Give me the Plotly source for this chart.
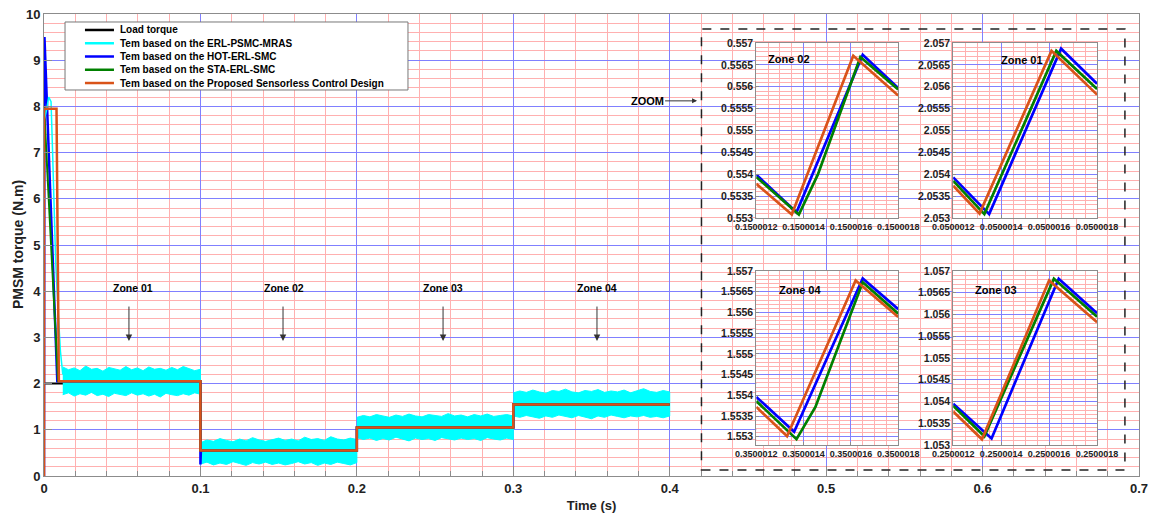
import numpy as np
import plotly.graph_objects as go

# ---------------- data ----------------
C_BLACK, C_CYAN, C_BLUE, C_GREEN, C_ORANGE = "#000000", "#00FFFF", "#0000FF", "#008000", "#D95319"
FONT = "Liberation Sans, Arial, sans-serif"

legend_labels = ["Load torque", "Tem based on the ERL-PSMC-MRAS", "Tem based on the HOT-ERL-SMC",
                 "Tem based on the STA-ERL-SMC", "Tem based on the Proposed Sensorless Control Design"]
legend_colors = [C_BLACK, C_CYAN, C_BLUE, C_GREEN, C_ORANGE]

load_t = [0, 0.1, 0.1, 0.2, 0.2, 0.3, 0.3, 0.4]
load_y = [2.0, 2.0, 0.55, 0.55, 1.05, 1.05, 1.55, 1.55]

cyan_t = [0, 0.0015, 0.003, 0.0045, 0.0055, 0.0065, 0.0075, 0.009, 0.0105, 0.012]
cyan_y = [7.7, 7.9, 8.2, 8.1, 7.0, 5.6, 4.6, 3.6, 2.7, 2.2]

blue_t = [0, 0.0003, 0.0085, 0.1, 0.1, 0.1003, 0.2, 0.2, 0.3, 0.3, 0.4]
blue_y = [0.0, 9.5, 2.05, 2.05, 0.25, 0.55, 0.55, 1.05, 1.05, 1.55, 1.55]

green_t = [0, 0.009, 0.1, 0.1, 0.2, 0.2, 0.3, 0.3, 0.4]
green_y = [8.0, 2.05, 2.05, 0.55, 0.55, 1.05, 1.05, 1.55, 1.55]

orange_t = [0, 0, 0.008, 0.0095, 0.1, 0.1, 0.2, 0.2, 0.3, 0.3, 0.4]
orange_y = [0, 7.95, 7.95, 2.05, 2.05, 0.55, 0.55, 1.05, 1.05, 1.55, 1.55]

# cyan noise band (upper / lower envelope per zone)
band_start = [0.012, 0.1, 0.2, 0.3]
band_end = [0.1, 0.2, 0.3, 0.4]
band_up = [
    [2.36, 2.30, 2.34, 2.28, 2.38, 2.31, 2.33, 2.27, 2.35, 2.32, 2.29, 2.37, 2.30, 2.34, 2.28, 2.36, 2.31, 2.33, 2.29, 2.35, 2.30, 2.37, 2.32, 2.28, 2.31],
    [0.72, 0.78, 0.75, 0.81, 0.77, 0.74, 0.80, 0.76, 0.83, 0.78, 0.75, 0.79, 0.82, 0.77, 0.80, 0.76, 0.84, 0.79, 0.81, 0.77, 0.85, 0.80, 0.78, 0.82, 0.79],
    [1.27, 1.31, 1.28, 1.33, 1.30, 1.27, 1.32, 1.29, 1.34, 1.30, 1.28, 1.33, 1.31, 1.29, 1.35, 1.30, 1.32, 1.28, 1.33, 1.30, 1.34, 1.29, 1.31, 1.33, 1.30],
    [1.80, 1.84, 1.81, 1.86, 1.82, 1.79, 1.85, 1.83, 1.88, 1.82, 1.80, 1.85, 1.83, 1.87, 1.81, 1.84, 1.82, 1.86, 1.80, 1.84, 1.89, 1.83, 1.81, 1.85, 1.82],
]
band_lo = [
    [1.76, 1.80, 1.73, 1.78, 1.75, 1.81, 1.74, 1.77, 1.72, 1.79, 1.76, 1.74, 1.80, 1.75, 1.78, 1.73, 1.77, 1.71, 1.79, 1.76, 1.74, 1.78, 1.75, 1.80, 1.77],
    [0.26, 0.30, 0.24, 0.28, 0.25, 0.31, 0.27, 0.23, 0.29, 0.26, 0.30, 0.25, 0.28, 0.24, 0.27, 0.31, 0.26, 0.29, 0.23, 0.28, 0.25, 0.30, 0.27, 0.24, 0.29],
    [0.83, 0.79, 0.82, 0.77, 0.81, 0.78, 0.84, 0.80, 0.76, 0.82, 0.79, 0.81, 0.77, 0.83, 0.80, 0.78, 0.82, 0.79, 0.81, 0.77, 0.83, 0.80, 0.78, 0.82, 0.79],
    [1.30, 1.27, 1.31, 1.28, 1.25, 1.30, 1.27, 1.32, 1.29, 1.26, 1.31, 1.28, 1.24, 1.30, 1.27, 1.32, 1.29, 1.26, 1.30, 1.28, 1.31, 1.27, 1.29, 1.26, 1.30],
]

# zone labels on main plot
zone_names = ["Zone 01", "Zone 02", "Zone 03", "Zone 04"]
zone_text_x = [0.0569, 0.1534, 0.2551, 0.3535]
zone_arrow_x = [0.0543, 0.1528, 0.2551, 0.3535]

# insets
z02_xt = ["0.1500012", "0.1500014", "0.1500016", "0.1500018"]
z02_xv = [0.1500012, 0.1500014, 0.1500016, 0.1500018]
z02_yv = [0.553, 0.5535, 0.554, 0.5545, 0.555, 0.5555, 0.556, 0.5565, 0.557]
z02_yt = ["0.553", "0.5535", "0.554", "0.5545", "0.555", "0.5555", "0.556", "0.5565", "0.557"]
z02_blue_x = [0.1500012, 0.15000137, 0.15000165, 0.1500018]
z02_blue_y = [0.55399, 0.55313, 0.55673, 0.55597]
z02_green_x = [0.1500012, 0.15000138, 0.15000146, 0.15000164, 0.1500018]
z02_green_y = [0.55394, 0.55308, 0.55399, 0.55668, 0.55594]
z02_orange_x = [0.1500012, 0.15000135, 0.15000161, 0.1500018]
z02_orange_y = [0.55378, 0.55308, 0.55671, 0.5558]

z01_xt = ["0.0500012", "0.0500014", "0.0500016", "0.0500018"]
z01_xv = [0.0500012, 0.0500014, 0.0500016, 0.0500018]
z01_yv = [2.053, 2.0535, 2.054, 2.0545, 2.055, 2.0555, 2.056, 2.0565, 2.057]
z01_yt = ["2.053", "2.0535", "2.054", "2.0545", "2.055", "2.0555", "2.056", "2.0565", "2.057"]
z01_blue_x = [0.0500012, 0.05000135, 0.05000165, 0.0500018]
z01_blue_y = [2.05393, 2.05309, 2.05687, 2.05607]
z01_green_x = [0.0500012, 0.05000133, 0.05000163, 0.0500018]
z01_green_y = [2.05385, 2.05309, 2.05682, 2.05595]
z01_orange_x = [0.0500012, 0.05000131, 0.05000161, 0.0500018]
z01_orange_y = [2.05374, 2.0531, 2.05682, 2.05582]

z04_xt = ["0.3500012", "0.3500014", "0.3500016", "0.3500018"]
z04_xv = [0.3500012, 0.3500014, 0.3500016, 0.3500018]
z04_yv = [1.553, 1.5535, 1.554, 1.5545, 1.555, 1.5555, 1.556, 1.5565, 1.557]
z04_yt = ["1.553", "1.5535", "1.554", "1.5545", "1.555", "1.5555", "1.556", "1.5565", "1.557"]
z04_blue_x = [0.3500012, 0.35000136, 0.35000165, 0.3500018]
z04_blue_y = [1.55396, 1.55312, 1.55682, 1.55608]
z04_green_x = [0.3500012, 0.35000137, 0.35000145, 0.35000165, 0.3500018]
z04_green_y = [1.55386, 1.55294, 1.55372, 1.55673, 1.55597]
z04_orange_x = [0.3500012, 0.35000133, 0.35000162, 0.3500018]
z04_orange_y = [1.55372, 1.55301, 1.55677, 1.55589]

z03_xt = ["0.2500012", "0.2500014", "0.2500016", "0.2500018"]
z03_xv = [0.2500012, 0.2500014, 0.2500016, 0.2500018]
z03_yv = [1.053, 1.0535, 1.054, 1.0545, 1.055, 1.0555, 1.056, 1.0565, 1.057]
z03_yt = ["1.053", "1.0535", "1.054", "1.0545", "1.055", "1.0555", "1.056", "1.0565", "1.057"]
z03_blue_x = [0.2500012, 0.25000136, 0.25000164, 0.2500018]
z03_blue_y = [1.05395, 1.05315, 1.05682, 1.05603]
z03_green_x = [0.2500012, 0.25000133, 0.25000162, 0.2500018]
z03_green_y = [1.0539, 1.0532, 1.05682, 1.05595]
z03_orange_x = [0.2500012, 0.25000132, 0.2500016, 0.2500018]
z03_orange_y = [1.05377, 1.05313, 1.05678, 1.05582]

insets = [
    (2, "Zone 02", z02_xv, z02_xt, z02_yv, z02_yt, [0.553, 0.557], [0.6505, 0.7801], [0.5584, 0.9372], (0.07, 0.909),
     [(z02_blue_x, z02_blue_y), (z02_green_x, z02_green_y), (z02_orange_x, z02_orange_y)]),
    (3, "Zone 01", z01_xv, z01_xt, z01_yv, z01_yt, [2.053, 2.057], [0.8303, 0.9617], [0.5584, 0.9372], (0.32, 0.903),
     [(z01_blue_x, z01_blue_y), (z01_green_x, z01_green_y), (z01_orange_x, z01_orange_y)]),
    (4, "Zone 04", z04_xv, z04_xt, z04_yv, z04_yt, [1.5528, 1.557], [0.6505, 0.7801], [0.0671, 0.4437], (0.147, 0.89),
     [(z04_blue_x, z04_blue_y), (z04_green_x, z04_green_y), (z04_orange_x, z04_orange_y)]),
    (5, "Zone 03", z03_xv, z03_xt, z03_yv, z03_yt, [1.053, 1.057], [0.8303, 0.9617], [0.0671, 0.4437], (0.138, 0.89),
     [(z03_blue_x, z03_blue_y), (z03_green_x, z03_green_y), (z03_orange_x, z03_orange_y)]),
]

MAJOR = "#8080ff"
MINOR = "#ffb0b0"
AXLINE = "#8c8c8c"

# minor grid positions (skip the major ones)
main_x_minor = [round(i * 0.02, 4) for i in range(36) if i % 5]
main_y_minor = [round(i * 0.2, 4) for i in range(51) if i % 5]

# ---------------- figure ----------------
fig = go.Figure()

fig.add_trace(go.Scatter(x=load_t, y=load_y, mode="lines", line=dict(color=C_BLACK, width=2), showlegend=False))
for s, e, up, lo in zip(band_start, band_end, band_up, band_lo):
    t = list(np.linspace(s, e, len(up)))
    fig.add_trace(go.Scatter(x=t + t[::-1], y=up + lo[::-1], mode="lines", fill="toself",
                             fillcolor=C_CYAN, line=dict(color=C_CYAN, width=1), showlegend=False))
fig.add_trace(go.Scatter(x=blue_t, y=blue_y, mode="lines", line=dict(color=C_BLUE, width=2.5), showlegend=False))
fig.add_trace(go.Scatter(x=green_t, y=green_y, mode="lines", line=dict(color=C_GREEN, width=2), showlegend=False))
fig.add_trace(go.Scatter(x=cyan_t, y=cyan_y, mode="lines", line=dict(color=C_CYAN, width=1.5), showlegend=False))
fig.add_trace(go.Scatter(x=orange_t, y=orange_y, mode="lines", line=dict(color=C_ORANGE, width=2.5), showlegend=False))

shapes = []
annotations = []
layout_axes = {}

for (k, title, xv, xt, yv, yt, yr, xd, yd, tpos, series) in insets:
    xa, ya = f"x{k}", f"y{k}"
    for (sx, sy), col in zip(series, [C_BLUE, C_GREEN, C_ORANGE]):
        fig.add_trace(go.Scatter(x=sx, y=sy, xaxis=xa, yaxis=ya, mode="lines",
                                 line=dict(color=col, width=2.7), showlegend=False))
    xstep, ystep = (xv[1] - xv[0]) / 4, (yv[1] - yv[0]) / 5
    xminor = [xv[0] + i * xstep for i in range(13) if i % 4]
    yminor = [yv[0] + i * ystep for i in range(-3, 41) if i % 5]
    layout_axes[f"xaxis{k}"] = dict(
        domain=xd, anchor=ya, range=[xv[0], xv[-1]], tickmode="array", tickvals=xv, ticktext=xt,
        tickangle=0, automargin=False,
        showgrid=True, gridcolor=MAJOR, gridwidth=1,
        minor=dict(tickmode="array", tickvals=xminor, showgrid=True, gridcolor=MINOR, gridwidth=1),
        showline=True, mirror=True, linecolor=AXLINE, linewidth=1, zeroline=False,
        ticks="inside", ticklen=3, tickcolor=AXLINE,
        tickfont=dict(family=FONT, size=9, color="#222", weight="bold"))
    layout_axes[f"yaxis{k}"] = dict(
        domain=yd, anchor=xa, range=yr, tickmode="array", tickvals=yv, ticktext=yt,
        automargin=False,
        showgrid=True, gridcolor=MAJOR, gridwidth=1,
        minor=dict(tickmode="array", tickvals=yminor, showgrid=True, gridcolor=MINOR, gridwidth=1),
        showline=True, mirror=True, linecolor=AXLINE, linewidth=1, zeroline=False,
        ticks="inside", ticklen=3, tickcolor=AXLINE,
        tickfont=dict(family=FONT, size=10.5, color="#222", weight="bold"))
    shapes.append(dict(type="rect", xref=f"{xa} domain", yref=f"{ya} domain", x0=0, x1=1, y0=0, y1=1,
                       fillcolor="white", line=dict(width=0), layer="below"))
    annotations.append(dict(text=f"<b>{title}</b>", xref=f"{xa} domain", yref=f"{ya} domain",
                            x=tpos[0], y=tpos[1], showarrow=False, xanchor="left", yanchor="middle",
                            font=dict(family=FONT, size=11, color="black")))

# dashed zoom rectangle
shapes.append(dict(type="rect", xref="x", yref="y", x0=0.4203, x1=0.691, y0=0.13, y1=9.675,
                   line=dict(color="#222", width=1.5, dash="dash"), fillcolor="rgba(0,0,0,0)", layer="above"))

# ZOOM arrow
annotations.append(dict(text="<b>ZOOM</b>", x=0.4175, y=8.12, xref="x", yref="y", ax=-50, ay=0,
                        showarrow=True, arrowhead=2, arrowsize=1, arrowwidth=1, arrowcolor="#333",
                        font=dict(family=FONT, size=11, color="black")))

# zone labels + arrows
for name, tx, axx in zip(zone_names, zone_text_x, zone_arrow_x):
    annotations.append(dict(text=f"<b>{name}</b>", x=tx, y=4.07, xref="x", yref="y", showarrow=False,
                            font=dict(family=FONT, size=10.5, color="black")))
    annotations.append(dict(text="", x=axx, y=2.92, ax=axx, ay=3.70, xref="x", yref="y",
                            axref="x", ayref="y", showarrow=True, arrowhead=2, arrowsize=1.3,
                            arrowwidth=1, arrowcolor="#333"))

# y-axis title
annotations.append(dict(text="<b>PMSM torque (N.m)</b>", xref="paper", yref="paper", x=-0.0237, y=0.5,
                        textangle=-90, showarrow=False, xanchor="center", yanchor="middle",
                        font=dict(family=FONT, size=14, color="#222")))

# manual legend
lg_x0, lg_x1, lg_y0, lg_y1 = 0.0192, 0.3324, 0.8355, 0.9827
shapes.append(dict(type="rect", xref="paper", yref="paper", x0=lg_x0, x1=lg_x1, y0=lg_y0, y1=lg_y1,
                   fillcolor="white", line=dict(color="#777", width=1), layer="above"))
row_top, row_step = 0.9654, 0.0287
for i, (lab, col) in enumerate(zip(legend_labels, legend_colors)):
    yy = row_top - i * row_step
    shapes.append(dict(type="line", xref="paper", yref="paper", x0=0.0374, x1=0.0639, y0=yy, y1=yy,
                       line=dict(color=col, width=2.5), layer="above"))
    annotations.append(dict(text=f"<b>{lab}</b>", xref="paper", yref="paper", x=0.0676, y=yy,
                            xanchor="left", yanchor="middle", showarrow=False,
                            font=dict(family=FONT, size=10, color="black")))

fig.update_layout(
    width=1149, height=515,
    margin=dict(l=44, r=10, t=14, b=39, autoexpand=False),
    paper_bgcolor="white", plot_bgcolor="white",
    showlegend=False,
    xaxis=dict(domain=[0, 1], range=[0, 0.7], tick0=0, dtick=0.1, automargin=False,
               showgrid=True, gridcolor=MAJOR, gridwidth=1,
               minor=dict(tickmode="array", tickvals=main_x_minor, showgrid=True, gridcolor=MINOR, gridwidth=1,
                          ticks="inside", ticklen=5, tickcolor=AXLINE),
               showline=True, mirror=True, linecolor=AXLINE, linewidth=1, zeroline=False,
               ticks="inside", ticklen=10, tickcolor=AXLINE,
               tickfont=dict(family=FONT, size=13, color="#222", weight="bold"),
               title=dict(text="<b>Time (s)</b>", standoff=6, font=dict(family=FONT, size=13, color="#222"))),
    yaxis=dict(domain=[0, 1], range=[0, 10], tick0=0, dtick=1, automargin=False,
               showgrid=True, gridcolor=MAJOR, gridwidth=1,
               minor=dict(tickmode="array", tickvals=main_y_minor, showgrid=True, gridcolor=MINOR, gridwidth=1),
               showline=True, mirror=True, linecolor=AXLINE, linewidth=1, zeroline=False,
               ticks="inside", ticklen=8, tickcolor=AXLINE,
               tickfont=dict(family=FONT, size=13, color="#222", weight="bold")),
    shapes=shapes,
    annotations=annotations,
    **layout_axes,
)

fig.write_html("out.html")
